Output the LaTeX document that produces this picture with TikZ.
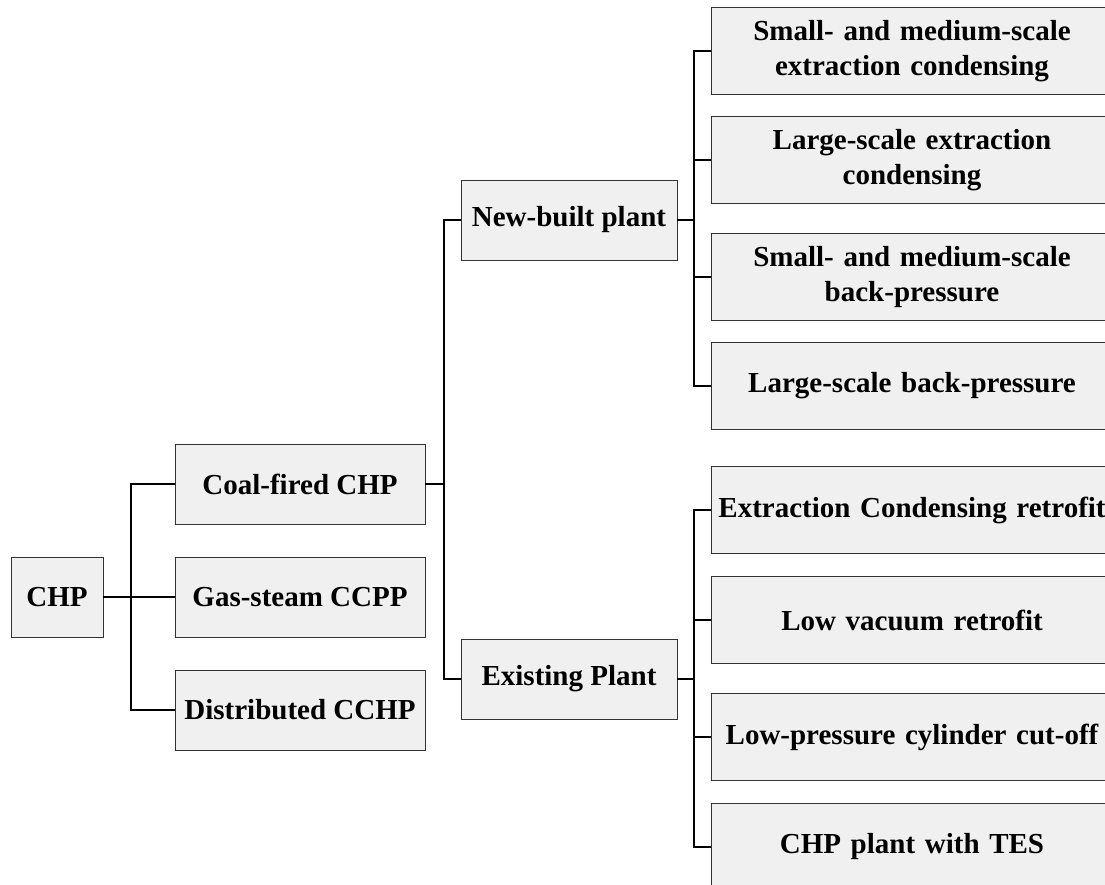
\documentclass[tikz,border=0pt]{standalone}
\usepackage{fontspec}
\setmainfont{Liberation Serif}
\begin{document}
\begin{tikzpicture}[x=1pt,y=-1pt,
  box/.style={draw=black!80, line width=0.8pt, fill=black!6, inner sep=1pt,
    font=\fontsize{29}{35}\selectfont\bfseries, align=center},
  midbox/.style={box, minimum width=250pt, minimum height=80pt},
  pbox/.style={box, minimum width=216pt, minimum height=80pt},
  rbox/.style={box, minimum width=402pt, minimum height=87.5pt, text width=398pt},
  conn/.style={line width=1.3pt, black}]
\clip (0,0) rectangle (1105,885);
\fill[white] (0,0) rectangle (1105,885);
\node[box, minimum width=92pt, minimum height=80pt] (chp) at (57,597) {CHP};
\node[midbox] (coal) at (300,484) {Coal-fired CHP};
\node[midbox] (gas) at (300,597) {Gas-steam CCPP};
\node[midbox] (dist) at (300,710) {Distributed CCHP};
\node[pbox] (new) at (569,220) {New-built plant};
\node[pbox] (exist) at (569,679) {Existing Plant};
\node[rbox] (r1) at (912,51) {Small- and medium-scale\\extraction condensing};
\node[rbox] (r2) at (912,160) {Large-scale extraction\\condensing};
\node[rbox] (r3) at (912,277) {Small- and medium-scale\\back-pressure};
\node[rbox] (r4) at (912,386) {Large-scale back-pressure};
\node[rbox] (r5) at (912,510) {Extraction Condensing retrofit};
\node[rbox] (r6) at (912,620) {Low vacuum retrofit};
\node[rbox] (r7) at (912,737) {Low-pressure cylinder cut-off};
\node[rbox] (r8) at (912,847) {CHP plant with TES};
\coordinate (j1) at (131,597);
\coordinate (j2) at (444,484);
\coordinate (j3) at (694,220);
\coordinate (j4) at (694,679);
\draw[conn] (chp.east) -- (gas.west);
\draw[conn] (coal.west) -| (j1) |- (dist.west);
\draw[conn] (coal.east) -- (j2);
\draw[conn] (new.west) -| (j2) |- (exist.west);
\draw[conn] (new.east) -- (j3);
\draw[conn] (r1.west) -| (j3) |- (r4.west);
\draw[conn] (r2.west) -- (r2.west -| j3);
\draw[conn] (r3.west) -- (r3.west -| j3);
\draw[conn] (exist.east) -- (j4);
\draw[conn] (r5.west) -| (j4) |- (r8.west);
\draw[conn] (r6.west) -- (r6.west -| j4);
\draw[conn] (r7.west) -- (r7.west -| j4);
\end{tikzpicture}
\end{document}
